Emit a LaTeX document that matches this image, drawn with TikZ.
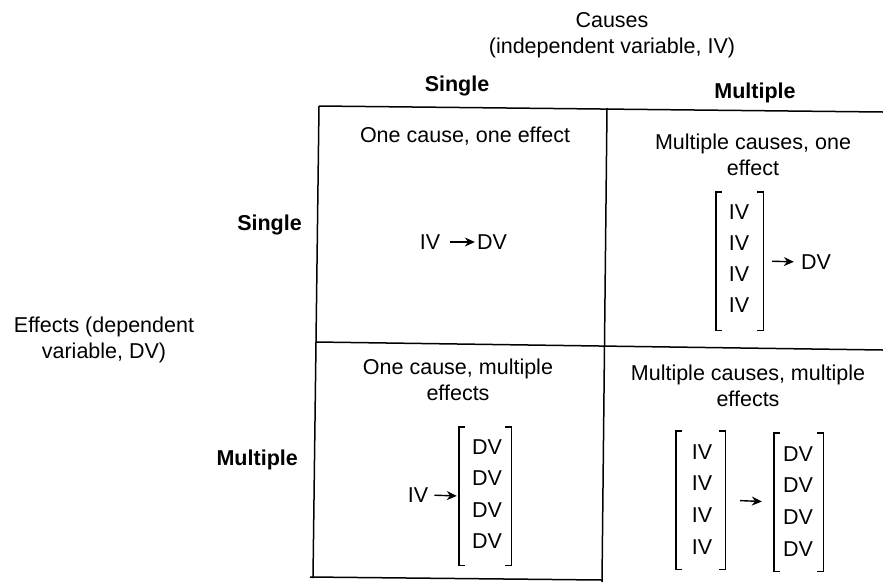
\documentclass[tikz,border=0pt]{standalone}
\usepackage{fontspec}
\setmainfont{Liberation Sans}
\usetikzlibrary{arrows.meta}
\newcommand\sqbrackets[1]{%
  \draw[brk] ([xshift=6pt]#1.north west) -- (#1.north west) -- (#1.south west) -- ([xshift=6pt]#1.south west);
  \draw[brk] ([xshift=-6pt]#1.north east) -- (#1.north east) -- (#1.south east) -- ([xshift=-6pt]#1.south east);}
\begin{document}
\begin{tikzpicture}[x=1pt,y=-1pt,
  txt/.style={inner sep=0pt,font=\fontsize{21.5}{25.5}\selectfont,align=center},
  hdr/.style={txt,font=\fontsize{21.5}{25.5}\selectfont\bfseries},
  grid/.style={line width=1.5pt},
  brk/.style={line width=1.4pt},
  brnode/.style={inner sep=0pt,draw=none},
  arr/.style={line width=1.4pt,-{Stealth[length=10pt,width=9pt]}}]
\useasboundingbox (0,0) rectangle (883,582);
% grid
\coordinate (tl) at (319,106);
\coordinate (tr) at (883,112);
\coordinate (bl) at (313,578);
\coordinate (mt) at (607,108);
\coordinate (mb) at (602,582);
\coordinate (ml) at (316,342);
\coordinate (mr) at (883,350);
\coordinate (bbl) at (310,577);
\coordinate (bbr) at (602,580);
\draw[grid] (tl) -- (tr);
\draw[grid] (tl) -- (bl);
\draw[grid] (mt) -- (mb);
\draw[grid] (ml) -- (mr);
\draw[grid] (bbl) -- (bbr);
% headers
\node[txt] (causes) at (612,35) {Causes\\(independent variable, IV)};
\node[hdr] (hsingle) at (457,86) {Single};
\node[hdr] (hmult) at (755,93) {Multiple};
\node[hdr,anchor=east] (vsingle) at (302,225) {Single};
\node[hdr,anchor=east] (vmult) at (298,460) {Multiple};
\node[txt] (effects) at (104,340) {Effects (dependent\\variable, DV)};
% cell 1,1
\node[txt] (t11) at (465,136) {One cause, one effect};
\node[txt] (iv11) at (430,242) {IV};
\node[txt] (dv11) at (492,242) {DV};
\draw[arr,shorten <=10pt,shorten >=2pt] (iv11) -- (dv11);
% cell 1,2
\node[txt] (t12) at (753,155) {Multiple causes, one\\effect};
\node[brnode,minimum width=47pt,minimum height=138pt] (bk12) at (739.5,261) {};
\sqbrackets{bk12}
\foreach \y [count=\i] in {212,243,274,305} \node[txt] (iv12\i) at (739,\y) {IV};
\node[txt] (dv12) at (816,262) {DV};
\draw[arr,shorten <=9pt,shorten >=7pt] (bk12.east) -- (dv12.west);
% cell 2,1
\node[txt] (t21) at (458,380) {One cause, multiple\\effects};
\node[brnode,minimum width=52pt,minimum height=138pt] (bk21) at (485,496) {};
\sqbrackets{bk21}
\foreach \y [count=\i] in {447,478,510,541} \node[txt] (dv21\i) at (487,\y) {DV};
\node[txt] (iv21) at (418,495) {IV};
\draw[arr,shorten <=6pt,shorten >=2pt] (iv21.east) -- (bk21.west);
% cell 2,2
\node[txt] (t22) at (748,386) {Multiple causes, multiple\\effects};
\node[brnode,minimum width=49pt,minimum height=138pt] (bk22a) at (700.5,500) {};
\sqbrackets{bk22a}
\foreach \y [count=\i] in {452,483,515,547} \node[txt] (iv22\i) at (702,\y) {IV};
\node[brnode,minimum width=49pt,minimum height=138pt] (bk22b) at (798.5,502) {};
\sqbrackets{bk22b}
\foreach \y [count=\i] in {454,485,517,549} \node[txt] (dv22\i) at (798,\y) {DV};
\draw[arr,shorten <=15pt,shorten >=12pt] (bk22a.east) -- (bk22b.west);
\end{tikzpicture}
\end{document}
